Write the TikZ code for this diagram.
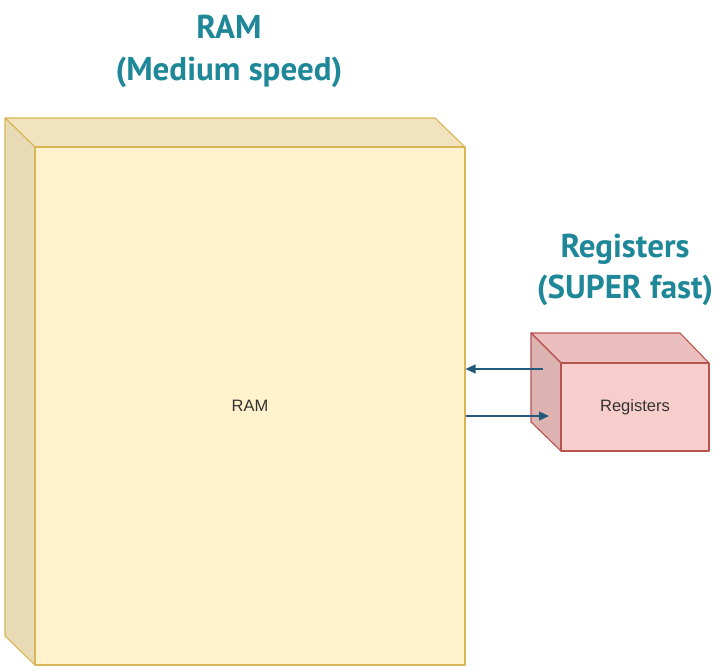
\documentclass[tikz,border=0pt]{standalone}
\usepackage{fontspec}
\setmainfont{Liberation Sans}
\newfontfamily\titlefont{PT Sans}
\usetikzlibrary{arrows.meta}
\definecolor{ttl}{HTML}{1E8798}
\definecolor{ramfront}{HTML}{FFF2CC}
\definecolor{ramtop}{HTML}{F2E3BF}
\definecolor{ramleft}{HTML}{E9DAB6}
\definecolor{ramline}{HTML}{D6B656}
\definecolor{regfront}{HTML}{F8CECC}
\definecolor{regtop}{HTML}{EABFBE}
\definecolor{regleft}{HTML}{DDB3B2}
\definecolor{regline}{HTML}{B85450}
\definecolor{arr}{HTML}{23597A}
\tikzset{
  title/.style={font=\titlefont\bfseries\fontsize{33}{40}\selectfont, text=ttl, anchor=base, inner sep=0pt},
  face/.style={line width=1.1pt, line join=round},
  frontbox/.style={face, rectangle, inner sep=0pt, font=\fontsize{16.5}{20}\selectfont, text=black!80},
  conn/.style={draw=arr, line width=1.3pt, -{Triangle[length=10pt,width=9pt]}}
}
\begin{document}
\begin{tikzpicture}[x=1pt,y=-1pt]
\useasboundingbox (0,0) rectangle (724,670);
% titles
\node[title] (t1) at (229,38) {RAM};
\node[title] (t2) at (229,80) {(Medium speed)};
\node[title] (t3) at (625,257) {Registers};
\node[title] (t4) at (625,298) {(SUPER fast)};
% RAM cube
\draw[face, fill=ramtop, draw=ramline] (35,147) -- (5,118) -- (435,118) -- (465,147) -- cycle;
\draw[face, fill=ramleft, draw=ramline] (35,147) -- (5,118) -- (5,636) -- (35,665) -- cycle;
\node[frontbox, fill=ramfront, draw=ramline, minimum width=430pt, minimum height=518pt] (ram) at (250,406) {RAM};
% Registers cube
\draw[face, fill=regtop, draw=regline] (561,363) -- (531,333) -- (680,333) -- (709,363) -- cycle;
\draw[face, fill=regleft, draw=regline] (561,363) -- (531,333) -- (531,422) -- (561,451) -- cycle;
\node[frontbox, fill=regfront, draw=regline, minimum width=148pt, minimum height=88pt] (reg) at (635,407) {Registers};
% connectors
\coordinate (a1) at (543,369);
\coordinate (a2) at (549,416);
\draw[conn] (a1) -- (ram.east |- a1);
\draw[conn] (ram.east |- a2) -- (a2);
\end{tikzpicture}
\end{document}
